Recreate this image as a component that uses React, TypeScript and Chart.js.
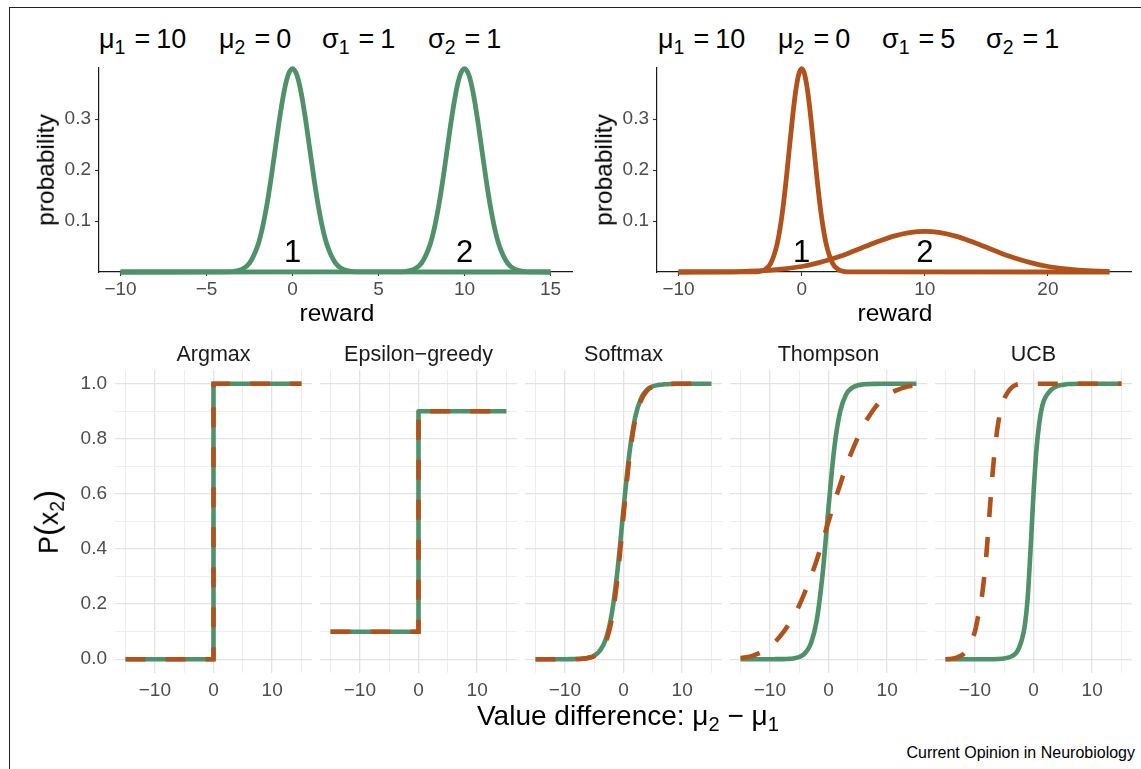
import React, { useEffect, useRef } from "react";
import { Chart, registerables } from "chart.js";
Chart.register(...registerables);

const FONT = '"Liberation Sans", Arial, Helvetica, sans-serif';
Chart.defaults.font.family = FONT;
const GREEN = "#4f9168";
const ORANGE = "#b1521c";
const TICK_COLOR = "#4d4d4d";

// ---------- top panels: reward densities ----------
const TL_REWARD_1 = [-10, -4, -3.5, -3, -2.5, -2, -1.75, -1.5, -1.25, -1, -0.75, -0.5, -0.25, 0, 0.25, 0.5, 0.75, 1, 1.25, 1.5, 1.75, 2, 2.5, 3, 3.5, 4, 15];
const TL_PROB_1 = [0, 0.0001, 0.0009, 0.0044, 0.0175, 0.054, 0.0863, 0.1295, 0.1826, 0.242, 0.3011, 0.3521, 0.3867, 0.3989, 0.3867, 0.3521, 0.3011, 0.242, 0.1826, 0.1295, 0.0863, 0.054, 0.0175, 0.0044, 0.0009, 0.0001, 0];
const TL_REWARD_2 = [-10, 6, 6.5, 7, 7.5, 8, 8.25, 8.5, 8.75, 9, 9.25, 9.5, 9.75, 10, 10.25, 10.5, 10.75, 11, 11.25, 11.5, 11.75, 12, 12.5, 13, 13.5, 14, 15];
const TL_PROB_2 = [0, 0.0001, 0.0009, 0.0044, 0.0175, 0.054, 0.0863, 0.1295, 0.1826, 0.242, 0.3011, 0.3521, 0.3867, 0.3989, 0.3867, 0.3521, 0.3011, 0.242, 0.1826, 0.1295, 0.0863, 0.054, 0.0175, 0.0044, 0.0009, 0.0001, 0];
const TL_X_TICKS = [-10, -5, 0, 5, 10, 15];
const TL_LABEL_X = [0, 10];
const TL_LABEL_TEXT = ["1", "2"];

const TR_REWARD_1 = [-10, -4, -3.5, -3, -2.5, -2, -1.75, -1.5, -1.25, -1, -0.75, -0.5, -0.25, 0, 0.25, 0.5, 0.75, 1, 1.25, 1.5, 1.75, 2, 2.5, 3, 3.5, 4, 25];
const TR_PROB_1 = [0, 0.0001, 0.0009, 0.0044, 0.0175, 0.054, 0.0863, 0.1295, 0.1826, 0.242, 0.3011, 0.3521, 0.3867, 0.3989, 0.3867, 0.3521, 0.3011, 0.242, 0.1826, 0.1295, 0.0863, 0.054, 0.0175, 0.0044, 0.0009, 0.0001, 0];
const TR_REWARD_2 = [-10, -5, -2.5, 0, 1.25, 2.5, 3.75, 5, 6.25, 7.5, 8.75, 10, 11.25, 12.5, 13.75, 15, 16.25, 17.5, 18.75, 20, 22.5, 25];
const TR_PROB_2 = [0.00003, 0.0009, 0.0035, 0.0108, 0.0173, 0.0259, 0.0365, 0.0484, 0.0602, 0.0704, 0.0773, 0.0798, 0.0773, 0.0704, 0.0602, 0.0484, 0.0365, 0.0259, 0.0173, 0.0108, 0.0035, 0.0009];
const TR_X_TICKS = [-10, 0, 10, 20];
const TR_LABEL_X = [0, 10];
const TR_LABEL_TEXT = ["1", "2"];

const PROB_TICKS = [0.1, 0.2, 0.3];
const LABEL_Y = 0.02;

const TITLE_LEFT = [
  { sym: "μ", sub: "1", val: "10" },
  { sym: "μ", sub: "2", val: "0" },
  { sym: "σ", sub: "1", val: "1" },
  { sym: "σ", sub: "2", val: "1" },
];
const TITLE_RIGHT = [
  { sym: "μ", sub: "1", val: "10" },
  { sym: "μ", sub: "2", val: "0" },
  { sym: "σ", sub: "1", val: "5" },
  { sym: "σ", sub: "2", val: "1" },
];

// ---------- bottom facets: P(x2) vs value difference ----------
const STRATEGIES = ["Argmax", "Epsilon\u2212greedy", "Softmax", "Thompson", "UCB"];
const STEP_DIFF = [-15, 0, 0, 15];
const ARGMAX_EQUAL = [0, 0, 1, 1];
const ARGMAX_UNEQUAL = [0, 0, 1, 1];
const EPSILON_EQUAL = [0.1, 0.1, 0.9, 0.9];
const EPSILON_UNEQUAL = [0.1, 0.1, 0.9, 0.9];

const DIFF = [-15, -14, -13, -12, -11, -10, -9, -8, -7, -6, -5, -4, -3, -2, -1, 0, 1, 2, 3, 4, 5, 6, 7, 8, 9, 10, 11, 12, 13, 14, 15];
const SOFTMAX_EQUAL = [0, 0, 0, 0, 0, 0.0001, 0.0004, 0.0009, 0.0022, 0.0054, 0.0131, 0.0317, 0.074, 0.165, 0.327, 0.545, 0.746, 0.879, 0.947, 0.978, 0.991, 0.996, 0.998, 0.9994, 1, 1, 1, 1, 1, 1, 1];
const SOFTMAX_UNEQUAL = [0, 0, 0, 0, 0, 0.0001, 0.0003, 0.0007, 0.0018, 0.0045, 0.011, 0.027, 0.063, 0.145, 0.3, 0.52, 0.73, 0.87, 0.94, 0.975, 0.99, 0.996, 0.998, 0.9993, 1, 1, 1, 1, 1, 1, 1];
const THOMPSON_EQUAL = [0, 0, 0, 0, 0, 0, 0.0002, 0.0004, 0.0011, 0.003, 0.008, 0.022, 0.057, 0.142, 0.31, 0.55, 0.769, 0.9, 0.961, 0.985, 0.9945, 0.998, 0.9989, 0.9996, 1, 1, 1, 1, 1, 1, 1];
const THOMPSON_UNEQUAL = [0.004, 0.007, 0.012, 0.02, 0.03, 0.045, 0.065, 0.09, 0.12, 0.155, 0.195, 0.245, 0.3, 0.36, 0.43, 0.5, 0.57, 0.635, 0.7, 0.755, 0.805, 0.85, 0.885, 0.915, 0.94, 0.958, 0.971, 0.98, 0.987, 0.992, 0.995];
const UCB_EQUAL_DIFF = [-15, -8, -6, -5, -4, -3, -2.5, -2, -1.5, -1, -0.5, 0, 0.5, 1, 1.5, 2, 3, 4, 5, 6, 8, 15];
const UCB_EQUAL = [0, 0, 0.001, 0.003, 0.008, 0.022, 0.04, 0.07, 0.12, 0.22, 0.4, 0.6, 0.76, 0.86, 0.92, 0.95, 0.978, 0.991, 0.996, 0.999, 1, 1];
const UCB_UNEQUAL_DIFF = [-15, -14, -13, -12, -11, -10.5, -10, -9.5, -9, -8.5, -8, -7.5, -7, -6.5, -6, -5.5, -5, -4.5, -4, -3.5, -3, -2, 0, 15];
const UCB_UNEQUAL = [0, 0.002, 0.007, 0.018, 0.045, 0.07, 0.1, 0.15, 0.2, 0.28, 0.39, 0.53, 0.67, 0.78, 0.86, 0.91, 0.945, 0.965, 0.98, 0.99, 0.996, 0.999, 1, 1];

const FACET_X_TICKS = [-15, -10, -5, 0, 5, 10, 15];
const FACET_Y_TICKS = [0, 0.1, 0.2, 0.3, 0.4, 0.5, 0.6, 0.7, 0.8, 0.9, 1.0];

const FACET_DATA = [
  { gx: STEP_DIFF, gy: ARGMAX_EQUAL, ox: STEP_DIFF, oy: ARGMAX_UNEQUAL, smooth: false },
  { gx: STEP_DIFF, gy: EPSILON_EQUAL, ox: STEP_DIFF, oy: EPSILON_UNEQUAL, smooth: false },
  { gx: DIFF, gy: SOFTMAX_EQUAL, ox: DIFF, oy: SOFTMAX_UNEQUAL, smooth: true },
  { gx: DIFF, gy: THOMPSON_EQUAL, ox: DIFF, oy: THOMPSON_UNEQUAL, smooth: true },
  { gx: UCB_EQUAL_DIFF, gy: UCB_EQUAL, ox: UCB_UNEQUAL_DIFF, oy: UCB_UNEQUAL, smooth: true },
];

// ---------- layout ----------
const FACET_LEFT0 = 115;
const FACET_STEP = 205;
const FACET_W = 197;
const FACET_CANVAS_TOP = 350;
const FACET_TOP = 370;
const FACET_H = 303;
const FACET_YAXIS_W = 55;
const FACET_XAXIS_H = 32;
const TOP_CANVAS_TOP = 50;
const TOP_AREA_TOP = 68;
const TOP_AREA_BOTTOM = 272;
const TOP_XAXIS_H = 48;

const minus = (v: number) => String(v).replace("-", "\u2212");
const pts = (xs: number[], ys: number[]) => xs.map((x, i) => ({ x, y: ys[i] }));

function labelPlugin(xs: number[], texts: string[]) {
  return {
    id: "peakLabels",
    afterDatasetsDraw(chart: any) {
      const { ctx, scales } = chart;
      ctx.save();
      ctx.font = `31px ${FONT}`;
      ctx.fillStyle = "#000";
      ctx.textAlign = "center";
      ctx.textBaseline = "alphabetic";
      xs.forEach((x, i) => {
        ctx.fillText(texts[i], scales.x.getPixelForValue(x), scales.y.getPixelForValue(LABEL_Y));
      });
      ctx.restore();
    },
  };
}

function topConfig(opts: any) {
  const ds = (xs: number[], ys: number[]) => ({
    data: pts(xs, ys),
    borderColor: opts.color,
    borderWidth: 4.8,
    pointRadius: 0,
    fill: false,
    cubicInterpolationMode: "monotone",
    clip: false,
  });
  return {
    type: "line",
    data: { datasets: [ds(opts.x1, opts.y1), ds(opts.x2, opts.y2)] },
    plugins: [labelPlugin(opts.labelX, opts.labelText)],
    options: {
      animation: false,
      responsive: false,
      events: [],
      layout: { padding: { top: TOP_AREA_TOP - TOP_CANVAS_TOP, right: opts.padRight, left: 0, bottom: 0 } },
      plugins: { legend: { display: false }, tooltip: { enabled: false } },
      scales: {
        x: {
          type: "linear",
          min: opts.xmin,
          max: opts.xmax,
          afterBuildTicks: (s: any) => {
            s.ticks = opts.xticks.map((v: number) => ({ value: v }));
          },
          afterFit: (s: any) => {
            s.height = TOP_XAXIS_H;
          },
          border: { display: true, color: "#1a1a1a", width: 1.2 },
          grid: { display: true, drawOnChartArea: false, drawTicks: true, tickLength: 4, tickColor: "#333", tickWidth: 1.1 },
          ticks: { autoSkip: false, maxRotation: 0, padding: 2, color: TICK_COLOR, font: { size: 19 }, callback: (v: number) => minus(v) },
        },
        y: {
          type: "linear",
          min: 0,
          max: 0.4,
          afterBuildTicks: (s: any) => {
            s.ticks = PROB_TICKS.map((v) => ({ value: v }));
          },
          afterFit: (s: any) => {
            s.width = opts.yWidth;
          },
          border: { display: true, color: "#1a1a1a", width: 1.2 },
          grid: { display: true, drawOnChartArea: false, drawTicks: true, tickLength: 4, tickColor: "#333", tickWidth: 1.1 },
          ticks: { autoSkip: false, padding: 4, color: TICK_COLOR, font: { size: 19 }, callback: (v: number) => v.toFixed(1) },
        },
      },
    },
  };
}

function facetConfig(i: number) {
  const d = FACET_DATA[i];
  const first = i === 0;
  const common = {
    pointRadius: 0,
    fill: false,
    borderWidth: 4.6,
    cubicInterpolationMode: d.smooth ? "monotone" : "default",
    tension: 0,
  };
  return {
    type: "line",
    data: {
      datasets: [
        { ...common, data: pts(d.ox, d.oy), borderColor: ORANGE, borderDash: [20, 20] },
        { ...common, data: pts(d.gx, d.gy), borderColor: GREEN, borderJoinStyle: "round" },
      ],
    },
    options: {
      animation: false,
      responsive: false,
      events: [],
      layout: { padding: { top: FACET_TOP - FACET_CANVAS_TOP, right: 0, left: 0, bottom: 0 } },
      plugins: { legend: { display: false }, tooltip: { enabled: false } },
      scales: {
        x: {
          type: "linear",
          min: -16.8,
          max: 16.8,
          afterBuildTicks: (s: any) => {
            s.ticks = FACET_X_TICKS.map((v) => ({ value: v }));
          },
          afterFit: (s: any) => {
            s.height = FACET_XAXIS_H;
          },
          border: { display: false },
          grid: {
            drawTicks: false,
            color: (c: any) => (c.index % 2 === 1 ? "#e3e3e3" : "#eeeeee"),
            lineWidth: (c: any) => (c.index % 2 === 1 ? 1.3 : 1),
          },
          ticks: {
            autoSkip: false,
            maxRotation: 0,
            padding: 6,
            color: TICK_COLOR,
            font: { size: 19 },
            callback: (v: number, idx: number) => (idx % 2 === 1 ? minus(v) : ""),
          },
        },
        y: {
          type: "linear",
          min: -0.05,
          max: 1.05,
          afterBuildTicks: (s: any) => {
            s.ticks = FACET_Y_TICKS.map((v) => ({ value: v }));
          },
          afterFit: (s: any) => {
            s.width = first ? FACET_YAXIS_W : 0;
          },
          border: { display: false },
          grid: {
            drawTicks: false,
            color: (c: any) => (c.index % 2 === 0 ? "#e3e3e3" : "#eeeeee"),
            lineWidth: (c: any) => (c.index % 2 === 0 ? 1.3 : 1),
          },
          ticks: {
            display: first,
            autoSkip: false,
            padding: 8,
            color: TICK_COLOR,
            font: { size: 19 },
            callback: (v: number, idx: number) => (idx % 2 === 0 ? v.toFixed(1) : ""),
          },
        },
      },
    },
  };
}

function ChartBox({ left, top, width, height, config }: any) {
  const ref = useRef<HTMLCanvasElement | null>(null);
  useEffect(() => {
    if (!ref.current) return;
    const chart = new Chart(ref.current, config);
    return () => chart.destroy();
  }, []);
  return (
    <canvas
      ref={ref}
      width={width}
      height={height}
      style={{ position: "absolute", left, top, width, height }}
    />
  );
}

function Txt({ x, y, size, children, rotate, anchor, color }: any) {
  const tx = anchor === "end" ? "-100%" : anchor === "start" ? "0" : "-50%";
  return (
    <div
      style={{
        position: "absolute",
        left: x,
        top: y,
        transform: `translate(${tx}, -50%)${rotate ? " rotate(-90deg)" : ""}`,
        transformOrigin: rotate ? "50% 50%" : undefined,
        fontSize: size,
        lineHeight: 1,
        whiteSpace: "nowrap",
        color: color || "#000",
      }}
    >
      {children}
    </div>
  );
}

const Sub = ({ children }: any) => (
  <span style={{ fontSize: "0.72em", position: "relative", top: "0.32em" }}>{children}</span>
);

function Title({ items, lefts }: any) {
  return (
    <>
      {items.map((it: any, i: number) => (
        <div
          key={i}
          style={{ position: "absolute", left: lefts[i], top: 26, fontSize: 27, lineHeight: 1, whiteSpace: "nowrap" }}
        >
          {it.sym}
          <Sub>{it.sub}</Sub>
          <span style={{ marginLeft: 9 }}>=</span>
          <span style={{ marginLeft: 6 }}>{it.val}</span>
        </div>
      ))}
    </>
  );
}

export default function App() {
  const tl = topConfig({
    color: GREEN,
    x1: TL_REWARD_1, y1: TL_PROB_1, x2: TL_REWARD_2, y2: TL_PROB_2,
    xmin: -11.25, xmax: 16.25, xticks: TL_X_TICKS, yWidth: 59, padRight: 8,
    labelX: TL_LABEL_X, labelText: TL_LABEL_TEXT,
  });
  const tr = topConfig({
    color: ORANGE,
    x1: TR_REWARD_1, y1: TR_PROB_1, x2: TR_REWARD_2, y2: TR_PROB_2,
    xmin: -11.75, xmax: 26.75, xticks: TR_X_TICKS, yWidth: 57, padRight: 9,
    labelX: TR_LABEL_X, labelText: TR_LABEL_TEXT,
  });
  const topH = TOP_AREA_BOTTOM - TOP_CANVAS_TOP + TOP_XAXIS_H;
  return (
    <div
      style={{
        position: "absolute",
        left: 0,
        top: 0,
        width: 1141,
        height: 769,
        background: "#fff",
        overflow: "hidden",
        fontFamily: FONT,
      }}
    >
      <div
        style={{
          position: "absolute",
          left: 9,
          top: 7,
          width: 1200,
          height: 800,
          borderLeft: "1.4px solid #222",
          borderTop: "1.4px solid #222",
        }}
      />
      <Title items={TITLE_LEFT} lefts={[99, 219, 322, 428]} />
      <Title items={TITLE_RIGHT} lefts={[658, 778, 882, 986]} />
      <ChartBox left={40} top={TOP_CANVAS_TOP} width={540} height={topH} config={tl} />
      <ChartBox left={600} top={TOP_CANVAS_TOP} width={540} height={topH} config={tr} />
      <Txt x={46} y={170} size={24.5} rotate>probability</Txt>
      <Txt x={604} y={170} size={24.5} rotate>probability</Txt>
      <Txt x={337} y={313} size={24.5}>reward</Txt>
      <Txt x={895} y={313} size={24.5}>reward</Txt>

      {STRATEGIES.map((s, i) => (
        <Txt key={s} x={FACET_LEFT0 + FACET_STEP * i + FACET_W / 2} y={355} size={21.5} color="#1a1a1a">
          {s}
        </Txt>
      ))}
      {STRATEGIES.map((s, i) => (
        <ChartBox
          key={s}
          left={FACET_LEFT0 + FACET_STEP * i - (i === 0 ? FACET_YAXIS_W : 0)}
          top={FACET_CANVAS_TOP}
          width={FACET_W + (i === 0 ? FACET_YAXIS_W : 0)}
          height={FACET_TOP - FACET_CANVAS_TOP + FACET_H + FACET_XAXIS_H}
          config={facetConfig(i)}
        />
      ))}
      <Txt x={47} y={522} size={27} rotate>
        P<span style={{ fontSize: "1.2em" }}>(</span>x<Sub>2</Sub><span style={{ fontSize: "1.2em" }}>)</span>
      </Txt>
      <Txt x={628} y={716} size={28}>
        Value difference: μ<Sub>2</Sub> − μ<Sub>1</Sub>
      </Txt>
      <Txt x={1135} y={753} size={16} anchor="end">
        Current Opinion in Neurobiology
      </Txt>
    </div>
  );
}
